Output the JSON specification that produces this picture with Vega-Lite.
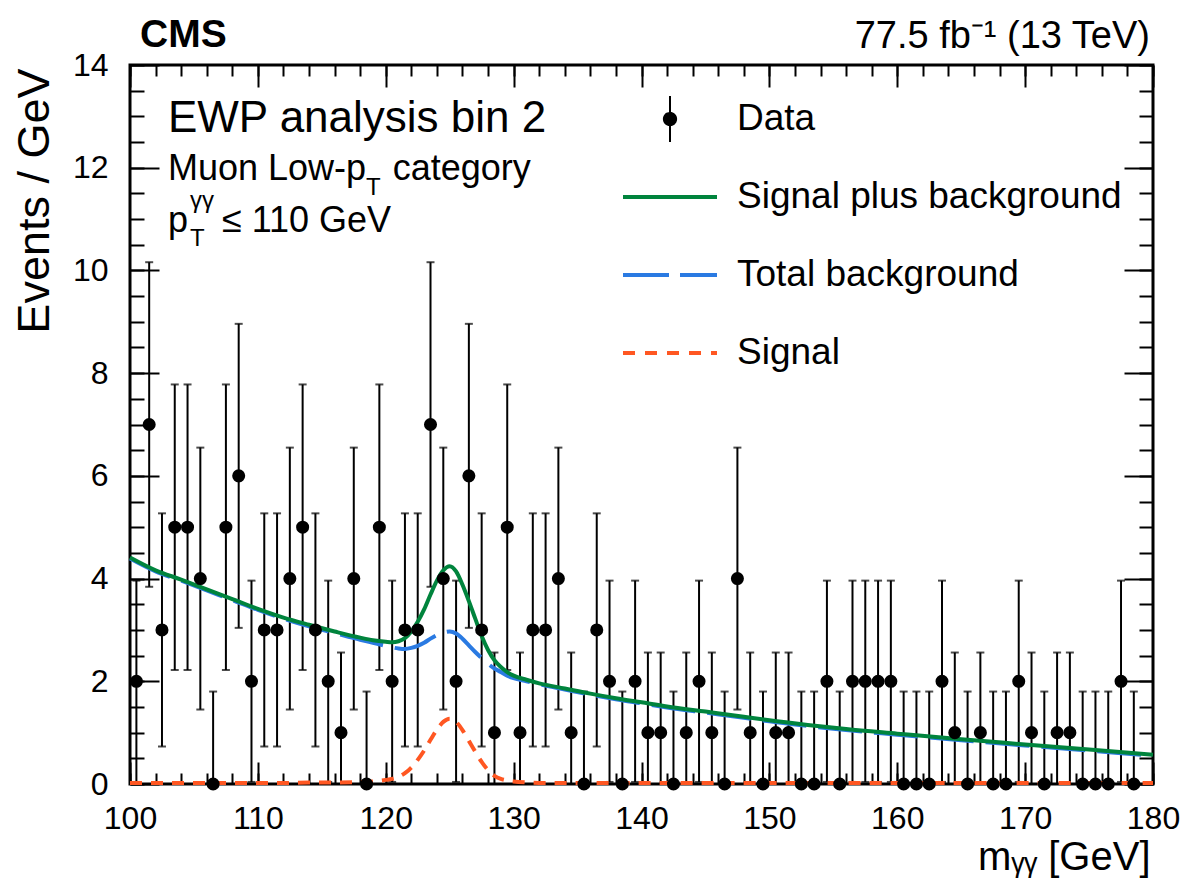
{
  "$schema": "https://vega.github.io/schema/vega-lite/v6.json",
  "width": 1023,
  "height": 719,
  "autosize": {"type": "none"},
  "padding": {"left": 130, "top": 65, "right": 28, "bottom": 95},
  "background": "white",
  "config": {
    "font": "Liberation Sans",
    "view": {"stroke": "black", "strokeWidth": 3}
  },
  "datasets": {
    "points": [
      {"m":100.5,"n":2,"lo":0.04,"hi":3.96},{"m":101.5,"n":7,"lo":3.84,"hi":10.16},{"m":102.5,"n":3,"lo":0.73,"hi":5.27},{"m":103.5,"n":5,"lo":2.22,"hi":7.78},{"m":104.5,"n":5,"lo":2.22,"hi":7.78},
      {"m":105.5,"n":4,"lo":1.45,"hi":6.55},{"m":106.5,"n":0,"lo":0,"hi":1.8},{"m":107.5,"n":5,"lo":2.22,"hi":7.78},{"m":108.5,"n":6,"lo":3.04,"hi":8.96},{"m":109.5,"n":2,"lo":0.04,"hi":3.96},
      {"m":110.5,"n":3,"lo":0.73,"hi":5.27},{"m":111.5,"n":3,"lo":0.73,"hi":5.27},{"m":112.5,"n":4,"lo":1.45,"hi":6.55},{"m":113.5,"n":5,"lo":2.22,"hi":7.78},{"m":114.5,"n":3,"lo":0.73,"hi":5.27},
      {"m":115.5,"n":2,"lo":0.04,"hi":3.96},{"m":116.5,"n":1,"lo":0,"hi":2.56},{"m":117.5,"n":4,"lo":1.45,"hi":6.55},{"m":118.5,"n":0,"lo":0,"hi":1.8},{"m":119.5,"n":5,"lo":2.22,"hi":7.78},
      {"m":120.5,"n":2,"lo":0.04,"hi":3.96},{"m":121.5,"n":3,"lo":0.73,"hi":5.27},{"m":122.5,"n":3,"lo":0.73,"hi":5.27},{"m":123.5,"n":7,"lo":3.84,"hi":10.16},{"m":124.5,"n":4,"lo":1.45,"hi":6.55},
      {"m":125.5,"n":2,"lo":0.04,"hi":3.96},{"m":126.5,"n":6,"lo":3.04,"hi":8.96},{"m":127.5,"n":3,"lo":0.73,"hi":5.27},{"m":128.5,"n":1,"lo":0,"hi":2.56},{"m":129.5,"n":5,"lo":2.22,"hi":7.78},
      {"m":130.5,"n":1,"lo":0,"hi":2.56},{"m":131.5,"n":3,"lo":0.73,"hi":5.27},{"m":132.5,"n":3,"lo":0.73,"hi":5.27},{"m":133.5,"n":4,"lo":1.45,"hi":6.55},{"m":134.5,"n":1,"lo":0,"hi":2.56},
      {"m":135.5,"n":0,"lo":0,"hi":1.8},{"m":136.5,"n":3,"lo":0.73,"hi":5.27},{"m":137.5,"n":2,"lo":0.04,"hi":3.96},{"m":138.5,"n":0,"lo":0,"hi":1.8},{"m":139.5,"n":2,"lo":0.04,"hi":3.96},
      {"m":140.5,"n":1,"lo":0,"hi":2.56},{"m":141.5,"n":1,"lo":0,"hi":2.56},{"m":142.5,"n":0,"lo":0,"hi":1.8},{"m":143.5,"n":1,"lo":0,"hi":2.56},{"m":144.5,"n":2,"lo":0.04,"hi":3.96},
      {"m":145.5,"n":1,"lo":0,"hi":2.56},{"m":146.5,"n":0,"lo":0,"hi":1.8},{"m":147.5,"n":4,"lo":1.45,"hi":6.55},{"m":148.5,"n":1,"lo":0,"hi":2.56},{"m":149.5,"n":0,"lo":0,"hi":1.8},
      {"m":150.5,"n":1,"lo":0,"hi":2.56},{"m":151.5,"n":1,"lo":0,"hi":2.56},{"m":152.5,"n":0,"lo":0,"hi":1.8},{"m":153.5,"n":0,"lo":0,"hi":1.8},{"m":154.5,"n":2,"lo":0.04,"hi":3.96},
      {"m":155.5,"n":0,"lo":0,"hi":1.8},{"m":156.5,"n":2,"lo":0.04,"hi":3.96},{"m":157.5,"n":2,"lo":0.04,"hi":3.96},{"m":158.5,"n":2,"lo":0.04,"hi":3.96},{"m":159.5,"n":2,"lo":0.04,"hi":3.96},
      {"m":160.5,"n":0,"lo":0,"hi":1.8},{"m":161.5,"n":0,"lo":0,"hi":1.8},{"m":162.5,"n":0,"lo":0,"hi":1.8},{"m":163.5,"n":2,"lo":0.04,"hi":3.96},{"m":164.5,"n":1,"lo":0,"hi":2.56},
      {"m":165.5,"n":0,"lo":0,"hi":1.8},{"m":166.5,"n":1,"lo":0,"hi":2.56},{"m":167.5,"n":0,"lo":0,"hi":1.8},{"m":168.5,"n":0,"lo":0,"hi":1.8},{"m":169.5,"n":2,"lo":0.04,"hi":3.96},
      {"m":170.5,"n":1,"lo":0,"hi":2.56},{"m":171.5,"n":0,"lo":0,"hi":1.8},{"m":172.5,"n":1,"lo":0,"hi":2.56},{"m":173.5,"n":1,"lo":0,"hi":2.56},{"m":174.5,"n":0,"lo":0,"hi":1.8},
      {"m":175.5,"n":0,"lo":0,"hi":1.8},{"m":176.5,"n":0,"lo":0,"hi":1.8},{"m":177.5,"n":2,"lo":0.04,"hi":3.96},{"m":178.5,"n":0,"lo":0,"hi":1.8}
    ],
    "bg": [
      {"m":100,"v":4.39,"series":"Total background"},{"m":102,"v":4.14,"series":"Total background"},{"m":104,"v":3.96,"series":"Total background"},{"m":106,"v":3.77,"series":"Total background"},
      {"m":108,"v":3.58,"series":"Total background"},{"m":110,"v":3.39,"series":"Total background"},{"m":112,"v":3.22,"series":"Total background"},{"m":114,"v":3.07,"series":"Total background"},
      {"m":116,"v":2.94,"series":"Total background"},{"m":118,"v":2.81,"series":"Total background"},{"m":119,"v":2.75,"series":"Total background"},{"m":120,"v":2.69,"series":"Total background"},
      {"m":120.5,"v":2.66,"series":"Total background"},{"m":121,"v":2.64,"series":"Total background"},{"m":121.5,"v":2.63,"series":"Total background"},{"m":122,"v":2.65,"series":"Total background"},
      {"m":122.5,"v":2.69,"series":"Total background"},{"m":123,"v":2.75,"series":"Total background"},{"m":123.5,"v":2.83,"series":"Total background"},{"m":124,"v":2.9,"series":"Total background"},
      {"m":124.5,"v":2.95,"series":"Total background"},{"m":125,"v":2.97,"series":"Total background"},{"m":125.5,"v":2.93,"series":"Total background"},{"m":126,"v":2.83,"series":"Total background"},
      {"m":126.5,"v":2.7,"series":"Total background"},{"m":127,"v":2.57,"series":"Total background"},{"m":127.5,"v":2.45,"series":"Total background"},{"m":128,"v":2.34,"series":"Total background"},
      {"m":128.5,"v":2.25,"series":"Total background"},{"m":129,"v":2.18,"series":"Total background"},{"m":129.5,"v":2.11,"series":"Total background"},{"m":130,"v":2.06,"series":"Total background"},
      {"m":131,"v":2.0,"series":"Total background"},{"m":132,"v":1.94,"series":"Total background"},{"m":134,"v":1.84,"series":"Total background"},{"m":136,"v":1.74,"series":"Total background"},
      {"m":138,"v":1.65,"series":"Total background"},{"m":140,"v":1.57,"series":"Total background"},{"m":142,"v":1.49,"series":"Total background"},{"m":145,"v":1.39,"series":"Total background"},
      {"m":148,"v":1.29,"series":"Total background"},{"m":150,"v":1.22,"series":"Total background"},{"m":153,"v":1.13,"series":"Total background"},{"m":156,"v":1.05,"series":"Total background"},
      {"m":160,"v":0.96,"series":"Total background"},{"m":165,"v":0.85,"series":"Total background"},{"m":170,"v":0.75,"series":"Total background"},{"m":175,"v":0.65,"series":"Total background"},
      {"m":180,"v":0.55,"series":"Total background"}
    ],
    "sig": [
      {"m":100,"v":0.02,"series":"Signal"},{"m":102,"v":0.02,"series":"Signal"},{"m":104,"v":0.02,"series":"Signal"},{"m":106,"v":0.02,"series":"Signal"},
      {"m":108,"v":0.02,"series":"Signal"},{"m":110,"v":0.02,"series":"Signal"},{"m":112,"v":0.02,"series":"Signal"},{"m":114,"v":0.03,"series":"Signal"},
      {"m":116,"v":0.03,"series":"Signal"},{"m":118,"v":0.04,"series":"Signal"},{"m":119,"v":0.05,"series":"Signal"},{"m":120,"v":0.08,"series":"Signal"},
      {"m":120.5,"v":0.1,"series":"Signal"},{"m":121,"v":0.14,"series":"Signal"},{"m":121.5,"v":0.21,"series":"Signal"},{"m":122,"v":0.32,"series":"Signal"},
      {"m":122.5,"v":0.47,"series":"Signal"},{"m":123,"v":0.65,"series":"Signal"},{"m":123.5,"v":0.86,"series":"Signal"},{"m":124,"v":1.06,"series":"Signal"},
      {"m":124.5,"v":1.21,"series":"Signal"},{"m":125,"v":1.27,"series":"Signal"},{"m":125.5,"v":1.21,"series":"Signal"},{"m":126,"v":1.05,"series":"Signal"},
      {"m":126.5,"v":0.84,"series":"Signal"},{"m":127,"v":0.63,"series":"Signal"},{"m":127.5,"v":0.43,"series":"Signal"},{"m":128,"v":0.27,"series":"Signal"},
      {"m":128.5,"v":0.16,"series":"Signal"},{"m":129,"v":0.1,"series":"Signal"},{"m":129.5,"v":0.07,"series":"Signal"},{"m":130,"v":0.05,"series":"Signal"},
      {"m":131,"v":0.03,"series":"Signal"},{"m":132,"v":0.02,"series":"Signal"},{"m":134,"v":0.02,"series":"Signal"},{"m":136,"v":0.02,"series":"Signal"},
      {"m":138,"v":0.02,"series":"Signal"},{"m":140,"v":0.02,"series":"Signal"},{"m":142,"v":0.02,"series":"Signal"},{"m":145,"v":0.02,"series":"Signal"},
      {"m":148,"v":0.02,"series":"Signal"},{"m":150,"v":0.02,"series":"Signal"},{"m":153,"v":0.02,"series":"Signal"},{"m":156,"v":0.02,"series":"Signal"},
      {"m":160,"v":0.02,"series":"Signal"},{"m":165,"v":0.02,"series":"Signal"},{"m":170,"v":0.02,"series":"Signal"},{"m":175,"v":0.02,"series":"Signal"},
      {"m":180,"v":0.02,"series":"Signal"}
    ],
    "sb": [
      {"m":100,"v":4.41,"series":"Signal plus background"},{"m":102,"v":4.16,"series":"Signal plus background"},{"m":104,"v":3.98,"series":"Signal plus background"},{"m":106,"v":3.79,"series":"Signal plus background"},
      {"m":108,"v":3.6,"series":"Signal plus background"},{"m":110,"v":3.41,"series":"Signal plus background"},{"m":112,"v":3.24,"series":"Signal plus background"},{"m":114,"v":3.1,"series":"Signal plus background"},
      {"m":116,"v":2.97,"series":"Signal plus background"},{"m":118,"v":2.85,"series":"Signal plus background"},{"m":119,"v":2.8,"series":"Signal plus background"},{"m":120,"v":2.77,"series":"Signal plus background"},
      {"m":120.5,"v":2.76,"series":"Signal plus background"},{"m":121,"v":2.78,"series":"Signal plus background"},{"m":121.5,"v":2.84,"series":"Signal plus background"},{"m":122,"v":2.97,"series":"Signal plus background"},
      {"m":122.5,"v":3.16,"series":"Signal plus background"},{"m":123,"v":3.4,"series":"Signal plus background"},{"m":123.5,"v":3.69,"series":"Signal plus background"},{"m":124,"v":3.96,"series":"Signal plus background"},
      {"m":124.5,"v":4.16,"series":"Signal plus background"},{"m":125,"v":4.24,"series":"Signal plus background"},{"m":125.5,"v":4.14,"series":"Signal plus background"},{"m":126,"v":3.88,"series":"Signal plus background"},
      {"m":126.5,"v":3.56,"series":"Signal plus background"},{"m":127,"v":3.22,"series":"Signal plus background"},{"m":127.5,"v":2.88,"series":"Signal plus background"},{"m":128,"v":2.61,"series":"Signal plus background"},
      {"m":128.5,"v":2.41,"series":"Signal plus background"},{"m":129,"v":2.28,"series":"Signal plus background"},{"m":129.5,"v":2.18,"series":"Signal plus background"},{"m":130,"v":2.11,"series":"Signal plus background"},
      {"m":131,"v":2.03,"series":"Signal plus background"},{"m":132,"v":1.96,"series":"Signal plus background"},{"m":134,"v":1.86,"series":"Signal plus background"},{"m":136,"v":1.76,"series":"Signal plus background"},
      {"m":138,"v":1.67,"series":"Signal plus background"},{"m":140,"v":1.59,"series":"Signal plus background"},{"m":142,"v":1.51,"series":"Signal plus background"},{"m":145,"v":1.41,"series":"Signal plus background"},
      {"m":148,"v":1.31,"series":"Signal plus background"},{"m":150,"v":1.24,"series":"Signal plus background"},{"m":153,"v":1.15,"series":"Signal plus background"},{"m":156,"v":1.07,"series":"Signal plus background"},
      {"m":160,"v":0.98,"series":"Signal plus background"},{"m":165,"v":0.87,"series":"Signal plus background"},{"m":170,"v":0.77,"series":"Signal plus background"},{"m":175,"v":0.67,"series":"Signal plus background"},
      {"m":180,"v":0.57,"series":"Signal plus background"}
    ]
  },
  "resolve": {"axis": {"x": "independent", "y": "independent"}},
  "layer": [
    {
      "data": {"name": "points"},
      "mark": {"type": "errorbar", "ticks": true, "size": 8, "thickness": 2, "color": "black"},
      "encoding": {
        "x": {"field": "m", "type": "quantitative",
          "scale": {"domain": [100, 180], "nice": false, "zero": false},
          "axis": {"orient": "bottom", "values": [100,110,120,130,140,150,160,170,180], "tickSize": -22, "tickWidth": 2, "tickColor": "black",
            "labelPadding": 41, "labelFontSize": 32, "labelFont": "Liberation Sans", "labelColor": "black", "labelFlush": false, "labelOverlap": false,
            "domain": false, "grid": false,
            "title": "mᵧᵧ [GeV]", "titleFont": "Liberation Sans", "titleFontSize": 40, "titleFontWeight": "normal", "titleColor": "black",
            "titleX": 1020, "titleY": 85, "titleAlign": "right", "titleBaseline": "alphabetic", "titleAnchor": "end"}},
        "y": {"field": "lo", "type": "quantitative",
          "scale": {"domain": [0, 14], "nice": false, "zero": false},
          "axis": {"orient": "left", "values": [0,2,4,6,8,10,12,14], "tickSize": -29, "tickWidth": 2, "tickColor": "black",
            "labelPadding": 51, "labelFontSize": 32, "labelFont": "Liberation Sans", "labelColor": "black", "labelFlush": false, "labelOverlap": false,
            "domain": false, "grid": false,
            "title": "Events / GeV", "titleFont": "Liberation Sans", "titleFontSize": 45, "titleFontWeight": "normal", "titleColor": "black",
            "titleX": -82, "titleY": 3, "titleAngle": 270, "titleAlign": "right", "titleBaseline": "alphabetic"}},
        "y2": {"field": "hi"}
      }
    },
    {
      "data": {"name": "bg"},
      "mark": {"type": "line", "strokeWidth": 4, "strokeDash": [44, 12], "interpolate": "monotone"},
      "encoding": {
        "x": {"field": "m", "type": "quantitative",
          "axis": {"orient": "bottom", "values": [100,102,104,106,108,110,112,114,116,118,120,122,124,126,128,130,132,134,136,138,140,142,144,146,148,150,152,154,156,158,160,162,164,166,168,170,172,174,176,178,180],
            "tickSize": -11, "tickWidth": 2, "tickColor": "black", "labels": false, "domain": false, "grid": false, "title": null}},
        "y": {"field": "v", "type": "quantitative",
          "axis": {"orient": "left", "values": [0,0.5,1,1.5,2,2.5,3,3.5,4,4.5,5,5.5,6,6.5,7,7.5,8,8.5,9,9.5,10,10.5,11,11.5,12,12.5,13,13.5,14],
            "tickSize": -14, "tickWidth": 2, "tickColor": "black", "labels": false, "domain": false, "grid": false, "title": null}},
        "color": {"field": "series", "type": "nominal",
          "scale": {"domain": ["Data", "Signal plus background", "Total background", "Signal"], "range": ["black", "#00843d", "#2a7ae2", "#ff5722"]},
          "legend": {"orient": "none", "legendX": 493, "legendY": 15, "title": null, "direction": "vertical", "padding": 0,
            "symbolType": "stroke", "symbolSize": 8836, "symbolStrokeWidth": 4, "labelFontSize": 37, "labelFont": "Liberation Sans", "labelColor": "black",
            "labelOffset": 18, "labelLimit": 700, "rowPadding": 0, "clipHeight": 78,
            "encode": {
              "symbols": {"update": {
                "x": {"value": 47},
                "shape": {"signal": "datum.value === 'Data' ? 'M0,-0.49L0,0.49M0.13,0A0.13,0.13,0,1,1,-0.13,0A0.13,0.13,0,1,1,0.13,0Z' : 'stroke'"},
                "fill": {"signal": "datum.value === 'Data' ? 'black' : 'transparent'"},
                "strokeDash": {"signal": "datum.value === 'Total background' ? [46,11] : datum.value === 'Signal' ? [12,10] : [1,0]"},
                "strokeWidth": {"signal": "datum.value === 'Data' ? 2 : 4"},
                "opacity": {"value": 1}}},
              "labels": {"update": {"x": {"value": 114}}}
            }}}
      }
    },
    {
      "data": {"name": "sig"},
      "mark": {"type": "line", "strokeWidth": 4, "strokeDash": [12, 9], "interpolate": "monotone"},
      "encoding": {
        "x": {"field": "m", "type": "quantitative",
          "axis": {"orient": "top", "values": [100,110,120,130,140,150,160,170,180], "tickSize": -22, "tickWidth": 2, "tickColor": "black", "labels": false, "domain": false, "grid": false, "title": null}},
        "y": {"field": "v", "type": "quantitative",
          "axis": {"orient": "right", "values": [0,2,4,6,8,10,12,14], "tickSize": -29, "tickWidth": 2, "tickColor": "black", "labels": false, "domain": false, "grid": false, "title": null}},
        "color": {"field": "series", "type": "nominal"}
      }
    },
    {
      "data": {"name": "sb"},
      "mark": {"type": "line", "strokeWidth": 4, "interpolate": "monotone"},
      "encoding": {
        "x": {"field": "m", "type": "quantitative",
          "axis": {"orient": "top", "values": [100,102,104,106,108,110,112,114,116,118,120,122,124,126,128,130,132,134,136,138,140,142,144,146,148,150,152,154,156,158,160,162,164,166,168,170,172,174,176,178,180],
            "tickSize": -11, "tickWidth": 2, "tickColor": "black", "labels": false, "domain": false, "grid": false, "title": null}},
        "y": {"field": "v", "type": "quantitative",
          "axis": {"orient": "right", "values": [0,0.5,1,1.5,2,2.5,3,3.5,4,4.5,5,5.5,6,6.5,7,7.5,8,8.5,9,9.5,10,10.5,11,11.5,12,12.5,13,13.5,14],
            "tickSize": -14, "tickWidth": 2, "tickColor": "black", "labels": false, "domain": false, "grid": false, "title": null}},
        "color": {"field": "series", "type": "nominal"}
      }
    },
    {
      "data": {"name": "points"},
      "mark": {"type": "circle", "size": 170, "color": "black", "opacity": 1},
      "encoding": {
        "x": {"field": "m", "type": "quantitative", "axis": null},
        "y": {"field": "n", "type": "quantitative", "axis": null}
      }
    },
    {
      "data": {"values": [{}]},
      "mark": {"type": "text", "text": "CMS", "font": "Liberation Sans", "fontSize": 39, "fontWeight": "bold", "align": "left", "baseline": "alphabetic", "dx": 10, "dy": -18, "color": "black"},
      "encoding": {"x": {"datum": 100, "type": "quantitative", "axis": null}, "y": {"datum": 14, "type": "quantitative", "axis": null}}
    },
    {
      "data": {"values": [{}]},
      "mark": {"type": "text", "text": "77.5 fb⁻¹ (13 TeV)", "font": "Liberation Sans", "fontSize": 38, "align": "right", "baseline": "alphabetic", "dx": -3, "dy": -17, "color": "black"},
      "encoding": {"x": {"datum": 180, "type": "quantitative", "axis": null}, "y": {"datum": 14, "type": "quantitative", "axis": null}}
    },
    {
      "data": {"values": [{}]},
      "mark": {"type": "text", "text": "EWP analysis bin 2", "font": "Liberation Sans", "fontSize": 44, "align": "left", "baseline": "alphabetic", "color": "black"},
      "encoding": {"x": {"datum": 102.97, "type": "quantitative", "axis": null}, "y": {"datum": 12.7, "type": "quantitative", "axis": null}}
    },
    {
      "data": {"values": [{}]},
      "mark": {"type": "text", "text": "Muon Low-p", "font": "Liberation Sans", "fontSize": 36, "align": "left", "baseline": "alphabetic", "color": "black"},
      "encoding": {"x": {"datum": 102.97, "type": "quantitative", "axis": null}, "y": {"datum": 11.76, "type": "quantitative", "axis": null}}
    },
    {
      "data": {"values": [{}]},
      "mark": {"type": "text", "text": "T", "font": "Liberation Sans", "fontSize": 24, "align": "left", "baseline": "alphabetic", "color": "black"},
      "encoding": {"x": {"datum": 118.46, "type": "quantitative", "axis": null}, "y": {"datum": 11.47, "type": "quantitative", "axis": null}}
    },
    {
      "data": {"values": [{}]},
      "mark": {"type": "text", "text": "category", "font": "Liberation Sans", "fontSize": 36, "align": "left", "baseline": "alphabetic", "color": "black"},
      "encoding": {"x": {"datum": 120.55, "type": "quantitative", "axis": null}, "y": {"datum": 11.76, "type": "quantitative", "axis": null}}
    },
    {
      "data": {"values": [{}]},
      "mark": {"type": "text", "text": "p", "font": "Liberation Sans", "fontSize": 36, "align": "left", "baseline": "alphabetic", "color": "black"},
      "encoding": {"x": {"datum": 102.97, "type": "quantitative", "axis": null}, "y": {"datum": 10.75, "type": "quantitative", "axis": null}}
    },
    {
      "data": {"values": [{}]},
      "mark": {"type": "text", "text": "γγ", "font": "Liberation Sans", "fontSize": 24, "align": "left", "baseline": "alphabetic", "color": "black"},
      "encoding": {"x": {"datum": 104.69, "type": "quantitative", "axis": null}, "y": {"datum": 11.22, "type": "quantitative", "axis": null}}
    },
    {
      "data": {"values": [{}]},
      "mark": {"type": "text", "text": "T", "font": "Liberation Sans", "fontSize": 24, "align": "left", "baseline": "alphabetic", "color": "black"},
      "encoding": {"x": {"datum": 104.69, "type": "quantitative", "axis": null}, "y": {"datum": 10.48, "type": "quantitative", "axis": null}}
    },
    {
      "data": {"values": [{}]},
      "mark": {"type": "text", "text": "≤ 110 GeV", "font": "Liberation Sans", "fontSize": 36, "align": "left", "baseline": "alphabetic", "color": "black"},
      "encoding": {"x": {"datum": 107.19, "type": "quantitative", "axis": null}, "y": {"datum": 10.75, "type": "quantitative", "axis": null}}
    }
  ]
}
